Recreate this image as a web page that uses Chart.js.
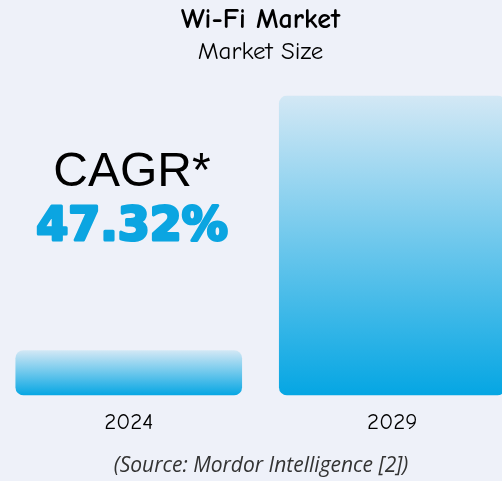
<!DOCTYPE html>
<html>
<head>
<meta charset="utf-8">
<script src="https://cdn.jsdelivr.net/npm/chart.js@4/dist/chart.umd.min.js"></script>
<style>
  html, body { margin: 0; padding: 0; background: #eef1f9; overflow: hidden; width: 502px; height: 481px; }
  #wrap { position: absolute; left: -3px; top: 0; width: 527px; height: 481px; }
</style>
</head>
<body>
<div id="wrap"><canvas id="c" width="527" height="481"></canvas></div>
<script>
const categories = ["2024", "2029"];
const marketSize = [4.5, 29.8];
const chartTitle = "Wi-Fi Market";
const chartSubtitle = "Market Size";
const cagrLabel = "CAGR*";
const cagrValue = "47.32%";
const sourceText = "(Source: Mordor Intelligence [2])";

const handFont = "'Comic Sans MS', 'Comic Neue', Lato, sans-serif";

const overlay = {
  id: 'overlay',
  afterDraw(chart) {
    const ctx = chart.ctx;
    ctx.save();
    ctx.textAlign = 'center';
    ctx.textBaseline = 'alphabetic';
    ctx.fillStyle = '#000';
    ctx.font = "48px 'Liberation Sans', Arial, sans-serif";
    ctx.fillText(cagrLabel, 135, 186);
    ctx.font = "bold 46px 'DejaVu Sans', sans-serif";
    ctx.fillStyle = '#0ba5e1';
    ctx.strokeStyle = '#0ba5e1';
    ctx.lineWidth = 3;
    ctx.lineJoin = 'round';
    ctx.strokeText(cagrValue, 135, 240);
    ctx.fillText(cagrValue, 135, 240);
    ctx.font = "italic 21px 'Open Sans', sans-serif";
    ctx.fillStyle = '#333';
    ctx.textBaseline = 'middle';
    ctx.fillText(sourceText, 264, 466);
    ctx.restore();
  }
};

new Chart(document.getElementById('c'), {
  type: 'bar',
  data: {
    labels: categories,
    datasets: [{
      data: marketSize,
      backgroundColor: (c) => {
        const chart = c.chart;
        if (!chart.chartArea || c.raw === undefined) return '#0aa6e2';
        const y = chart.scales.y;
        const top = y.getPixelForValue(c.raw);
        const bottom = y.getPixelForValue(0);
        const g = chart.ctx.createLinearGradient(0, top, 0, bottom);
        g.addColorStop(0, '#d3e8f5');
        g.addColorStop(1, '#05a6e3');
        return g;
      },
      borderRadius: 8,
      borderSkipped: false,
      categoryPercentage: 1,
      barPercentage: 0.86
    }]
  },
  options: {
    responsive: false,
    animation: false,
    devicePixelRatio: 1,
    layout: { padding: { left: 0, right: 0, top: 0, bottom: 40 } },
    plugins: {
      legend: { display: false },
      tooltip: { enabled: false },
      title: {
        display: true,
        text: chartTitle,
        color: '#000',
        font: { family: handFont, size: 28, weight: 'bold' },
        padding: { top: 3, bottom: 0 }
      },
      subtitle: {
        display: true,
        text: chartSubtitle,
        color: '#000',
        font: { family: handFont, size: 25 },
        padding: { top: 0, bottom: 29 }
      }
    },
    scales: {
      x: {
        grid: { display: false },
        border: { display: false },
        ticks: { color: '#000', font: { family: handFont, size: 23 }, padding: 5 }
      },
      y: {
        display: false,
        min: 0,
        max: 29.8
      }
    }
  },
  plugins: [overlay]
});
</script>
</body>
</html>
